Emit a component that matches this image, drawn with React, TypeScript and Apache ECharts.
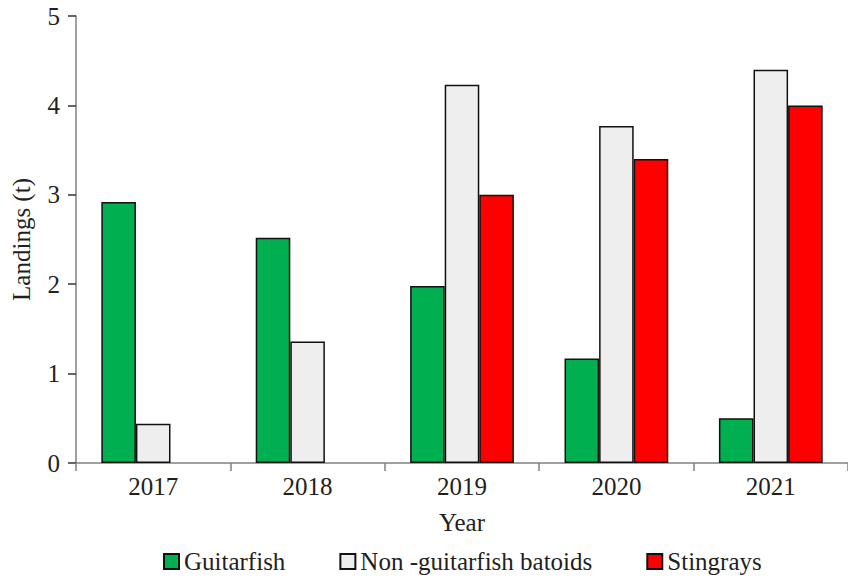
import React, { useEffect, useRef } from "react";
import * as echarts from "echarts";

const years = ["2017", "2018", "2019", "2020", "2021"];
const guitarfish = [2.92, 2.52, 1.98, 1.17, 0.5];
const nonGuitarfish = [0.44, 1.36, 4.23, 3.77, 4.4];
const stingrays: (number | null)[] = [null, null, 3.0, 3.4, 4.0];
const yTicks = [0, 1, 2, 3, 4, 5];
const seriesNames = ["Guitarfish", "Non -guitarfish batoids", "Stingrays"];
const seriesColors = ["#00b050", "#eeeeee", "#ff0000"];

const FONT = "Liberation Serif";
const TEXT = "#231f20";

export default function App() {
  const ref = useRef<HTMLDivElement>(null);
  useEffect(() => {
    if (!ref.current) return;
    const chart = echarts.init(ref.current, undefined, { renderer: "svg" });
    const border = { borderColor: "#111", borderWidth: 1.5 };
    chart.setOption({
      animation: false,
      backgroundColor: "#fff",
      textStyle: { fontFamily: FONT, color: TEXT },
      grid: { left: 76, right: 0, top: 16, bottom: 117, containLabel: false },
      legend: {
        left: 163,
        top: 549,
        padding: 0,
        itemWidth: 15,
        itemHeight: 15,
        itemGap: 54,
        icon: "rect",
        textStyle: { fontFamily: FONT, fontSize: 25, color: TEXT },
        data: seriesNames,
      },
      xAxis: {
        type: "category",
        data: years,
        boundaryGap: true,
        name: "Year",
        nameLocation: "middle",
        nameGap: 47,
        nameTextStyle: { fontFamily: FONT, fontSize: 25, color: TEXT },
        axisLine: { lineStyle: { color: "#808080", width: 1.5 } },
        axisTick: { show: true, length: 8, lineStyle: { color: "#808080", width: 1.5 } },
        axisLabel: { fontFamily: FONT, fontSize: 25, color: TEXT, margin: 11 },
      },
      yAxis: {
        type: "value",
        min: yTicks[0],
        max: yTicks[yTicks.length - 1],
        interval: 1,
        name: "Landings (t)",
        nameLocation: "middle",
        nameGap: 42,
        nameTextStyle: { fontFamily: FONT, fontSize: 25, color: TEXT },
        axisLine: { show: true, lineStyle: { color: "#808080", width: 1.5 } },
        axisTick: { show: true, length: 8, lineStyle: { color: "#333", width: 1.5 } },
        splitLine: { show: false },
        axisLabel: { fontFamily: FONT, fontSize: 25, color: TEXT, margin: 16 },
      },
      series: [
        {
          name: seriesNames[0],
          type: "bar",
          data: guitarfish,
          barWidth: "22.4%",
          barGap: "0%",
          itemStyle: { color: seriesColors[0], ...border },
        },
        {
          name: seriesNames[1],
          type: "bar",
          data: nonGuitarfish,
          barWidth: "22.4%",
          barGap: "0%",
          itemStyle: { color: seriesColors[1], ...border },
        },
        {
          name: seriesNames[2],
          type: "bar",
          data: stingrays,
          barWidth: "22.4%",
          barGap: "0%",
          itemStyle: { color: seriesColors[2], ...border },
        },
      ],
    });
    return () => chart.dispose();
  }, []);
  return (
    <div
      ref={ref}
      style={{ position: "fixed", left: 0, top: 0, width: 848, height: 580 }}
    />
  );
}
